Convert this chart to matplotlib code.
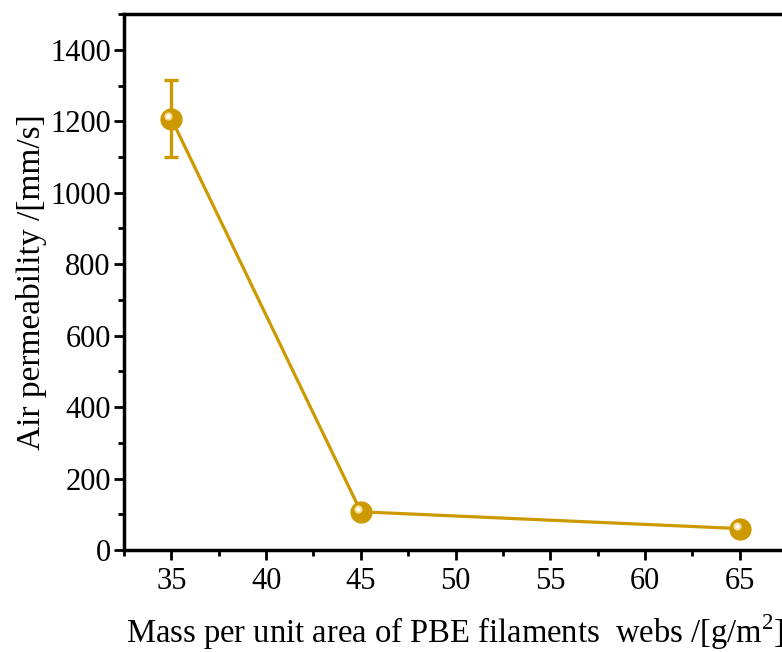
import numpy as np
from matplotlib import pyplot as plt
from matplotlib import transforms
from matplotlib.ticker import MultipleLocator

plt.rcParams['font.family'] = ['Liberation Serif', 'DejaVu Serif']
plt.rcParams['mathtext.fontset'] = 'custom'
plt.rcParams['mathtext.rm'] = 'Liberation Serif'

mass = [35, 45, 65]
permeability = [1207, 107, 60]
err = [108, 5, 5]

gold = '#CC9900'

fig = plt.figure(figsize=(7.82, 6.52), dpi=100)
ax = fig.add_axes([0.1586, 0.1564, 0.848, 0.822])

ax.errorbar(mass, permeability, yerr=err, color=gold, lw=2.3, capsize=5,
            capthick=2.4, elinewidth=2.4, marker='o', ms=15, mfc=gold, mec=gold, zorder=3)
# shiny highlight on each ball, shifted up-left by a few pixels
hl = transforms.offset_copy(ax.transData, fig=fig, x=-3, y=3, units='dots')
ax.plot(mass, permeability, 'o', ms=6, color='#F2DC96', mec='none', zorder=4, transform=hl)
ax.plot(mass, permeability, 'o', ms=3, color='white', mec='none', zorder=5, transform=hl)

ax.set_xlim(32.5, 67.5)
ax.set_ylim(0, 1500)
ax.xaxis.set_major_locator(MultipleLocator(5))
ax.xaxis.set_minor_locator(MultipleLocator(2.5))
ax.yaxis.set_minor_locator(MultipleLocator(100))
ax.set_yticks(range(0, 1401, 200))

ax.tick_params(which='major', direction='out', length=7, width=2, labelsize=22, pad=5)
ax.tick_params(axis='y', which='major', pad=2.5)
ax.tick_params(which='minor', direction='out', length=4, width=2)
ax.tick_params(top=False, right=False)
for s in ax.spines.values():
    s.set_linewidth(2.5)

ax.set_xlabel('Mass per unit area of PBE filaments  webs /[g/m$^2$]', fontsize=23.5)
ax.xaxis.set_label_coords(0.5, -0.117)
ax.set_ylabel('Air permeability /[mm/s]', fontsize=24, labelpad=2)

fig.savefig('out.png', dpi=100)
